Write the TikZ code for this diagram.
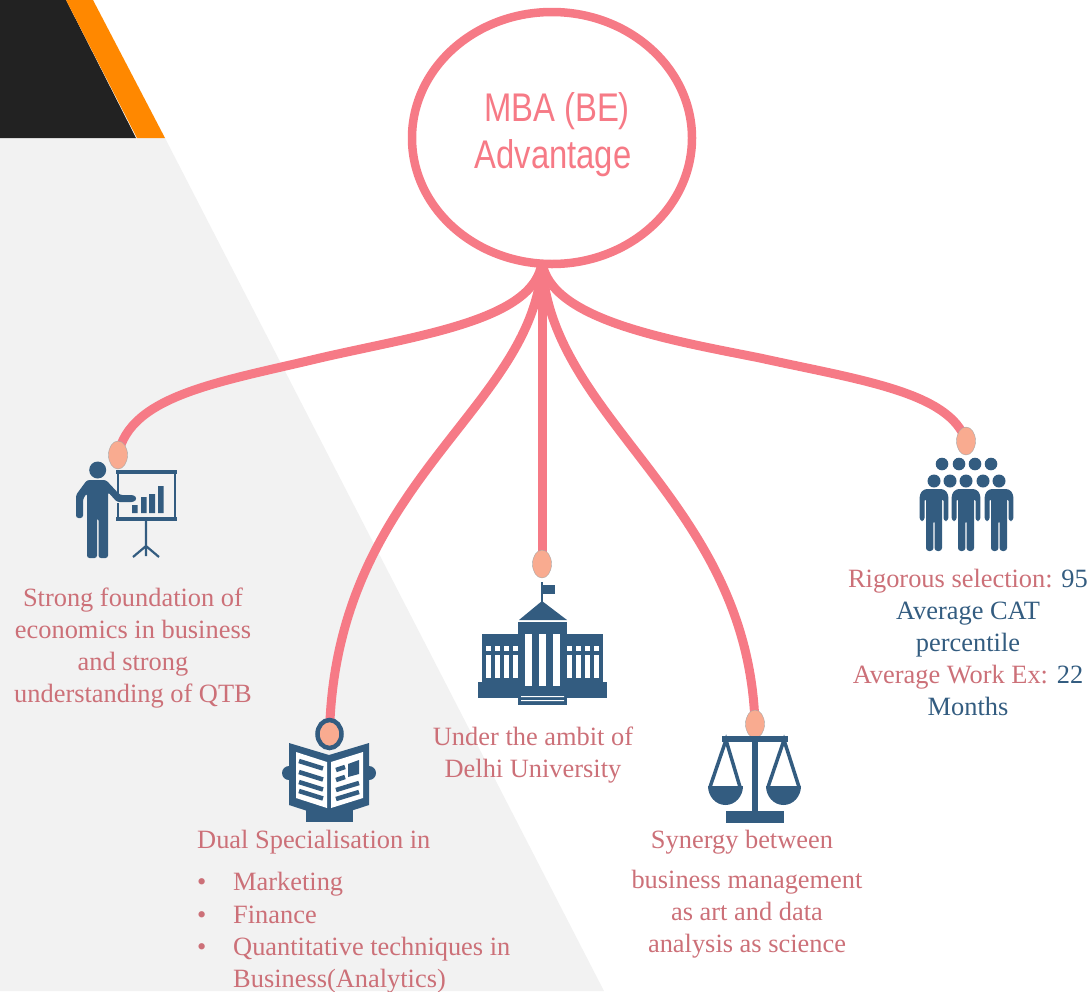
\documentclass[tikz,border=0pt]{standalone}
\usepackage{fontspec}
\setmainfont{Liberation Serif}
\newfontfamily\hubfont[FakeStretch=0.82]{Liberation Sans}
\usetikzlibrary{shapes.geometric}
\definecolor{panel}{HTML}{F2F2F2}
\definecolor{darktri}{HTML}{222222}
\definecolor{orangetri}{HTML}{FF8800}
\definecolor{conn}{HTML}{F67A86}
\definecolor{tip}{HTML}{F9AB90}
\definecolor{icon}{HTML}{335C80}
\definecolor{rosetext}{HTML}{CC7078}
\pgfdeclarelayer{under}
\pgfsetlayers{under,main}
\tikzset{
  link/.style={draw=conn,line width=9pt},
  tipnode/.style={ellipse,fill=tip,draw=black!35,line width=.4pt,minimum width=19pt,minimum height=28pt,inner sep=0pt},
  label/.style={inner sep=0pt,text=rosetext,align=center,font=\fontsize{26.4}{32}\selectfont},
  leftlabel/.style={label,anchor=base west,align=left},
}
\newcommand{\crowdfig}[1]{%
  \begin{scope}[shift={(#1,0)}]
    \fill[icon,rounded corners=3pt] (-14.3,494) -- (-14.3,521) -- (-9.5,521) -- (-9.5,498) -- (-8,498) -- (-8,551) -- (-.6,551) -- (-.6,520) -- (.6,520) -- (.6,551) -- (8,551) -- (8,498) -- (9.5,498) -- (9.5,521) -- (14.3,521) -- (14.3,494) -- (10,489) -- (-10,489) -- cycle;
  \end{scope}}
\begin{document}
\begin{tikzpicture}[x=1pt,y=-1pt]
\useasboundingbox (0,0) rectangle (1089,991);
\begin{pgfonlayer}{under}
  \fill[panel] (0,138) -- (165,138) -- (604,991) -- (0,991) -- cycle;
  \fill[darktri] (0,0) -- (66,0) -- (136,138) -- (0,138) -- cycle;
  \fill[orangetri] (66,0) -- (93,0) -- (165,138) -- (137,138) -- cycle;
\end{pgfonlayer}

% hub and tips
\node[ellipse,draw=conn,line width=8.5pt,minimum width=280pt,minimum height=252pt,inner sep=0pt] (hub) at (552,138) {};
\coordinate (foot) at (542,262);
\node[tipnode] (t1) at (118,455) {};
\node[tipnode,draw=icon,line width=4.5pt,minimum width=24pt,minimum height=28pt] (t2) at (329.5,734) {};
\node[tipnode] (t3) at (542,564) {};
\node[tipnode] (t4) at (755,724) {};
\node[tipnode] (t5) at (966,441) {};

\begin{pgfonlayer}{under}
  \draw[link] (foot) .. controls (535,320) and (420,335) .. (320,358) .. controls (220,382) and (130,395) .. (t1.center);
  \draw[link] (foot) .. controls (550,320) and (670,340) .. (760,358) .. controls (860,380) and (950,392) .. (t5.center);
  \draw[link] (foot) .. controls (535,410) and (335,480) .. (t2.center);
  \draw[link] (foot) .. controls (549,420) and (748,500) .. (t4.center);
  \draw[link] (foot) -- (t3.center);
\end{pgfonlayer}

% hub text
\node[inner sep=0pt,text=conn,font=\hubfont\fontsize{40}{48}\selectfont] (hubA) at (557,111) {MBA (BE)};
\node[inner sep=0pt,text=conn,font=\hubfont\fontsize{40}{48}\selectfont] (hubB) at (553,158) {Advantage};

% presenter
\fill[icon] (97.7,470) circle (8.5);
\fill[icon,rounded corners=2.500pt] (76,518) -- (76,495) -- (87,480) -- (106,480) -- (120,495) -- (134,495) -- (137,498.500) -- (134,502) -- (117,502) -- (108,492) -- (108,558) -- (98.5,558) -- (98.5,518) -- (97,518) -- (97,558) -- (87,558) -- (87,493) -- (83,499) -- (83,518) -- cycle;
\draw[icon,line width=3.400pt] (116,472) -- (177,472) (116,519) -- (177,519);
\draw[icon,line width=2.300pt] (118,472) -- (118,494) (118,503) -- (118,519) (175,472) -- (175,519);
\fill[icon] (132,505) rectangle (137.5,513) (141,497) rectangle (146.5,513) (149,494) rectangle (155,513) (158,486) rectangle (163.5,513);
\draw[icon,line width=2.200pt] (146,519) -- (146,556) (146,546) -- (133,557) (146,546) -- (159,557);

% building
\draw[icon,line width=2pt] (542,582) -- (542,602);
\fill[icon] (543,585) rectangle (555,594);
\fill[icon] (519,620) -- (542,601) -- (567,620) -- cycle;
\fill[icon] (518,622) rectangle (567,705);
\fill[icon] (482,634) rectangle (603,682);
\fill[icon] (478,682) rectangle (607,698);
\foreach \cx in {525,539,553}{\fill[white] (\cx,634) rectangle ++(7,52);}
\foreach \cx in {486,495,504,513,567,576,585,594}{
  \fill[white] (\cx,646) rectangle ++(5,5);
  \fill[white] (\cx,655) rectangle ++(5,23);
}
\fill[white] (521,696) rectangle (564,697.200) (521,700) rectangle (564,701.200);

% newspaper
\fill[icon] (289,773) circle (7) (369,773) circle (7);
\fill[icon] (306,800) rectangle (353,822);
\fill[icon] (289,743) -- (329,755) -- (369,743) -- (369,805) -- (329,818) -- (289,805) -- cycle;
\fill[white] (296,752) -- (327,762) -- (327,808) -- (296,798) -- cycle;
\fill[white] (331,762) -- (363,752) -- (363,798) -- (331,808) -- cycle;
\draw[icon,line width=4.500pt] (299,761) -- (323,768.500) (299,772) -- (323,779.500) (299,782) -- (323,789.500) (299,791) -- (323,798.500);
\draw[icon,line width=4.500pt] (336,770) -- (345,767) (336,780) -- (345,777) (336,790) -- (359,783) (336,799) -- (359,792);
\fill[icon] (348,764) -- (359,760) -- (359,774) -- (348,777) -- cycle;

% scales
\fill[icon] (722,736) rectangle (788,742);
\fill[icon] (752,740) rectangle (758,812);
\fill[icon] (726,811) rectangle (784,823);
\draw[icon,line width=3.500pt] (710,787) -- (726,740) -- (740,787) (768,787) -- (784,740) -- (799,787);
\fill[icon] (708,786) arc[start angle=180,end angle=360,x radius=17.500,y radius=-19] -- cycle;
\fill[icon] (766,786) arc[start angle=180,end angle=360,x radius=17.500,y radius=-19] -- cycle;

% crowd
\foreach \hx in {942,959,975,991}{\fill[icon] (\hx,464) circle (6.3);}
\foreach \hx in {934,950,966,983,999}{\fill[icon] (\hx,481) circle (6.5);}
\crowdfig{934}\crowdfig{966}\crowdfig{999}

% labels
\node[label] (a1) at (133,648.5) {Strong foundation of\\economics in business\\and strong\\understanding of QTB};
\node[label] (a2) at (533,755) {Under the ambit of\\Delhi University};
\node[leftlabel] (a3) at (197,848) {Dual Specialisation in};
\node[leftlabel] (b1) at (197,890) {•};
\node[leftlabel] (b2) at (197,923) {•};
\node[leftlabel] (b3) at (197,955) {•};
\node[leftlabel] (c1) at (233,890) {Marketing};
\node[leftlabel] (c2) at (233,923) {Finance};
\node[leftlabel] (c3) at (233,955) {Quantitative techniques in};
\node[leftlabel] (c4) at (233,987) {Business(Analytics)};
\node[label] (d0) at (742,842) {Synergy between};
\node[label] (d1) at (747,914.5) {business management\\as art and data\\analysis as science};
\node[label] (e1) at (968,642) {Rigorous selection: \textcolor{icon}{95}\\\textcolor{icon}{Average CAT}\\\textcolor{icon}{percentile}\\Average Work Ex: \textcolor{icon}{22}\\\textcolor{icon}{Months}};
\end{tikzpicture}
\end{document}
